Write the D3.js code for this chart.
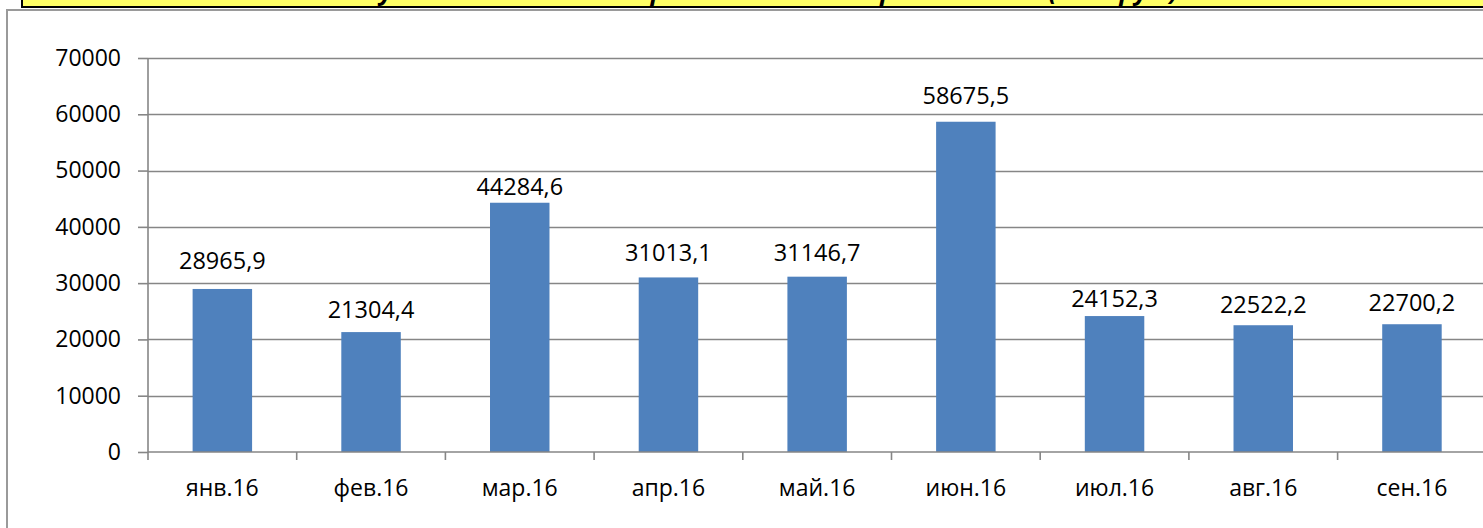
<!DOCTYPE html>
<html>
<head>
<meta charset="utf-8">
<script src="https://cdn.jsdelivr.net/npm/d3@7/dist/d3.min.js"></script>
<style>
  html, body { margin: 0; padding: 0; background: #fff; overflow: hidden; }
  svg { display: block; font-family: "Open Sans", "Noto Sans", sans-serif; }
</style>
</head>
<body>
<svg id="chart" width="1483" height="528"></svg>
<script>
const categories = ["янв.16", "фев.16", "мар.16", "апр.16", "май.16", "июн.16", "июл.16", "авг.16", "сен.16"];
const values = [28965.9, 21304.4, 44284.6, 31013.1, 31146.7, 58675.5, 24152.3, 22522.2, 22700.2];
const yTicks = [0, 10000, 20000, 30000, 40000, 50000, 60000, 70000];
const titleText = "Сумма начисленной заработной платы работникам (тыс.руб.)";

// layout: gap (px) between each bar top and its value label baseline, as placed in the original
const labelGap = [20, 14, 8, 16, 16, 18, 9, 12, 13];

const svg = d3.select("#chart");

// chart area border (light grey)
svg.append("rect")
  .attr("x", 7).attr("y", 10).attr("width", 1500).attr("height", 540)
  .attr("fill", "#fff").attr("stroke", "#9a9a9a").attr("stroke-width", 2);

// yellow title box (cut off at the top)
svg.append("rect")
  .attr("x", 22).attr("y", -40).attr("width", 1480).attr("height", 47)
  .attr("fill", "#ffff66").attr("stroke", "#000").attr("stroke-width", 2);
svg.append("text")
  .attr("x", 364).attr("y", 0)
  .attr("textLength", 814).attr("lengthAdjust", "spacingAndGlyphs")
  .attr("font-size", 25).attr("font-weight", "bold").attr("font-style", "italic")
  .attr("fill", "#000")
  .text(titleText);

const x0 = 148, step = 148.7;
const x = d3.scaleBand().domain(categories)
  .range([x0, x0 + step * categories.length])
  .paddingInner(0.6).paddingOuter(0.3);
const y = d3.scaleLinear().domain([0, 70000]).range([452, 58]);

const grid = "#868686";

// gridlines
svg.append("g").selectAll("line").data(yTicks.filter(d => d > 0)).join("line")
  .attr("x1", x0).attr("x2", 1483)
  .attr("y1", d => Math.round(y(d)) + 0.5).attr("y2", d => Math.round(y(d)) + 0.5)
  .attr("stroke", grid).attr("stroke-width", 1.6);

// y axis
const yAxis = svg.append("g").attr("transform", `translate(${x0},0)`)
  .call(d3.axisLeft(y).tickValues(yTicks).tickSize(10).tickPadding(17).tickFormat(d3.format("d")));
yAxis.selectAll("path, line").attr("stroke", grid).attr("stroke-width", 1.6);
yAxis.select(".domain").attr("d", `M0,${y(70000)}V${y(0)}`);
yAxis.selectAll("text").attr("font-size", 23).attr("fill", "#000")
  .attr("font-family", "'Open Sans', 'Noto Sans', sans-serif");

// bars
svg.append("g").selectAll("rect").data(values).join("rect")
  .attr("x", (d, i) => x(categories[i]))
  .attr("width", x.bandwidth())
  .attr("y", d => y(d))
  .attr("height", d => y(0) - y(d))
  .attr("fill", "#4f81bd");

// x axis line and boundary ticks
const bounds = d3.range(categories.length + 1).map(i => x0 + i * x.step());
svg.append("line")
  .attr("x1", x0).attr("x2", 1483).attr("y1", y(0)).attr("y2", y(0))
  .attr("stroke", grid).attr("stroke-width", 1.6);
svg.append("g").selectAll("line").data(bounds).join("line")
  .attr("x1", d => d).attr("x2", d => d)
  .attr("y1", y(0)).attr("y2", y(0) + 8)
  .attr("stroke", grid).attr("stroke-width", 1.6);

// category labels
svg.append("g").selectAll("text").data(categories).join("text")
  .attr("x", d => x(d) + x.bandwidth() / 2)
  .attr("y", 496)
  .attr("text-anchor", "middle")
  .attr("font-size", 23).attr("fill", "#000")
  .text(d => d);

// value labels
const fmt = v => d3.format(".1f")(v).replace(".", ",");
svg.append("g").selectAll("text").data(values).join("text")
  .attr("x", (d, i) => x(categories[i]) + x.bandwidth() / 2)
  .attr("y", (d, i) => y(d) - labelGap[i])
  .attr("text-anchor", "middle")
  .attr("font-size", 23.5).attr("fill", "#000")
  .text(d => fmt(d));
</script>
</body>
</html>
